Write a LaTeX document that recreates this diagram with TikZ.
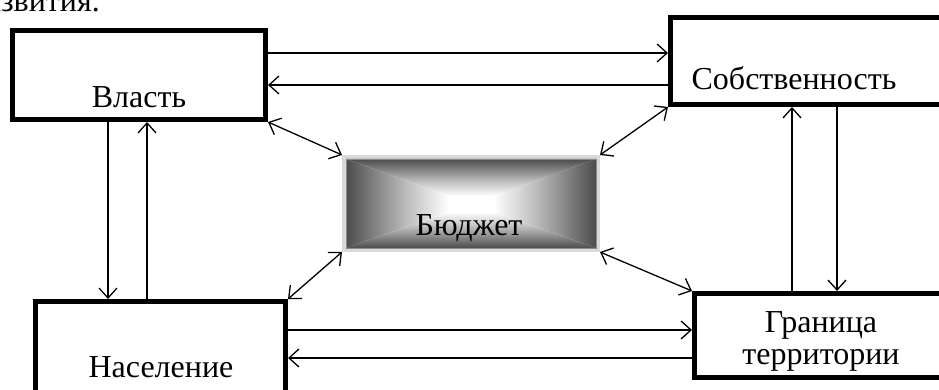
\documentclass[tikz,border=0pt]{standalone}
\usepackage{fontspec}
\setmainfont{Liberation Serif}
\usetikzlibrary{arrows.meta,calc}
\colorlet{dk}{black!70}
\pgfdeclarehorizontalshading{bevh}{100bp}{color(0bp)=(dk); color(25bp)=(dk); color(48bp)=(black!28); color(66bp)=(white); color(75bp)=(white); color(100bp)=(white)}
\pgfdeclareverticalshading{bevv}{100bp}{color(0bp)=(white); color(25bp)=(white); color(34bp)=(white); color(52bp)=(black!28); color(75bp)=(dk); color(100bp)=(dk)}
\begin{document}
\begin{tikzpicture}[x=1pt,y=-1pt,
  box/.style={draw=black,line width=5pt,fill=white,inner sep=0pt},
  lbl/.style={font=\fontsize{32}{35}\selectfont,anchor=base,inner sep=0pt},
  arr/.style={line width=1.3pt,-{Straight Barb[length=10pt,width=18pt,line width=1.3pt]}},
  darr/.style={line width=1.3pt,{Straight Barb[length=10pt,width=18pt,line width=1.3pt]}-{Straight Barb[length=10pt,width=18pt,line width=1.3pt]}}]
\useasboundingbox (0,0) rectangle (939,390);
\clip (0,0) rectangle (939,390);
% top cut-off text
\node[font=\fontsize{32}{35}\selectfont,anchor=base east,inner sep=0pt] (top) at (100,12) {развития.};
% boxes
\node[box,minimum width=253pt,minimum height=89pt] (vl) at (139,75) {};
\node[box,minimum width=272pt,minimum height=87pt] (sb) at (806.5,61) {};
\node[box,minimum width=250pt,minimum height=91pt] (ns) at (160.5,347) {};
\node[box,minimum width=248pt,minimum height=84pt] (gr) at (818.5,335.5) {};
% budget
\node[draw=black!15,line width=4pt,minimum width=254pt,minimum height=93pt,inner sep=0pt] (bd) at (471,203.5) {};
\coordinate (c) at (471,204);
\shade[shading=bevh] (346,159) -- (346,248) -- (c) -- cycle;
\shade[shading=bevh,shading angle=180] (596,159) -- (596,248) -- (c) -- cycle;
\shade[shading=bevv] (346,159) -- (596,159) -- (c) -- cycle;
\shade[shading=bevv,shading angle=180] (346,248) -- (596,248) -- (c) -- cycle;
\draw[black!45,line width=0.6pt] (346,159) rectangle (596,248);
% labels
\node[lbl] (tvl) at (139,108) {Власть};
\node[lbl] (tsb) at (794,90) {Собственность};
\node[lbl] (tns) at (161,377) {Население};
\node[lbl] (tgr1) at (821,332) {Граница};
\node[lbl] (tgr2) at (821,364) {территории};
\node[lbl] (tbd) at (469,235) {Бюджет};
% horizontal arrows
\draw[arr] ([yshift=22pt]vl.east) -- ([yshift=22pt]vl.east -| sb.west);
\draw[arr] ([yshift=-10pt]vl.east -| sb.west) -- ([yshift=-10pt]vl.east);
\draw[arr] ([yshift=17pt]ns.east) -- ([yshift=17pt]ns.east -| gr.west);
\draw[arr] ([yshift=-11pt]ns.east -| gr.west) -- ([yshift=-11pt]ns.east);
% vertical arrows
\draw[arr] ([xshift=-31pt]vl.south) -- ([xshift=-31pt]vl.south |- ns.north);
\draw[arr] ([xshift=8pt]vl.south |- ns.north) -- ([xshift=8pt]vl.south);
\draw[arr] ([xshift=-26.5pt]gr.north) -- ([xshift=-26.5pt]gr.north |- sb.south);
\draw[arr] ([xshift=18.5pt]gr.north |- sb.south) -- ([xshift=18.5pt]gr.north);
% diagonal double arrows
\draw[darr] (vl.south east) -- (bd.north west);
\draw[darr] (sb.south west) -- (bd.north east);
\draw[darr] (ns.north east) -- (bd.south west);
\draw[darr] (gr.north west) -- (bd.south east);
\end{tikzpicture}
\end{document}
